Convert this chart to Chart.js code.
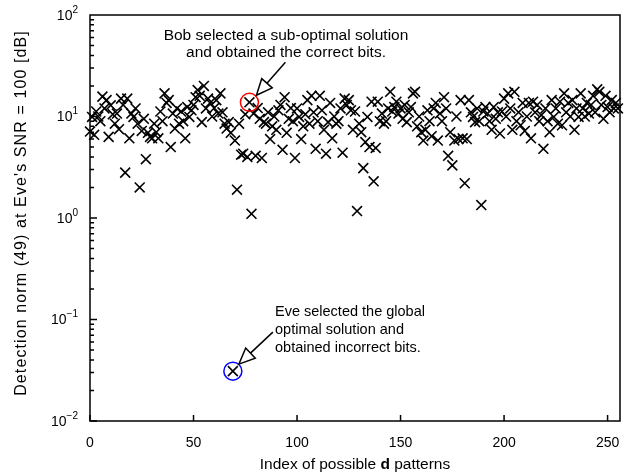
<!DOCTYPE html>
<html lang="en">
<head>
<meta charset="UTF-8">
<title>Detection norm vs. d pattern index</title>
<script src="https://cdn.jsdelivr.net/npm/chart.js"></script>
<style>
  html, body { margin: 0; padding: 0; background: #fff; }
  #wrap { width: 632px; height: 476px; }
</style>
</head>
<body>
<div id="wrap"><canvas id="chart" width="632" height="476"></canvas></div>
<script>
// tick values / labels
const xTicks = [0, 50, 100, 150, 200, 250];
const yDecades = [-2, -1, 0, 1, 2];

// detection norm for every possible d pattern (index 0..255)
const norms = [
  7.1, 9.9, 6.6, 11.2, 10, 9, 15.7, 12, 14.5, 6.3, 12.9, 10.5, 8.5, 10.7, 7.5, 15,
  13, 2.8, 15, 6.1, 10.7, 9.9, 12, 8.5, 2.0, 7.2, 9.5, 3.8, 6.9, 6.3, 6.1, 8.5,
  7.0, 6.1, 11.2, 9, 16.9, 13.6, 14.5, 5.0, 10.7, 7.6, 12, 8.5, 11.2, 9, 6.1, 12.4,
  9.9, 11.5, 13, 15.5, 18.2, 16, 8.8, 20, 12, 15, 13.6, 10, 12.1, 14.5, 10.7, 16.9,
  11, 8.5, 7.6, 8.8, 6.9, 0.031, 5.8, 1.9, 8.5, 4.2, 4.3, 10.5, 4.0, 13.8, 1.1, 10.7,
  4.1, 12.1, 9.5, 3.9, 8.8, 8.5, 11, 6, 8, 10, 7.4, 11.5, 13, 4.7, 15.5, 6.9,
  9.5, 12.1, 9.0, 3.9, 12, 9.9, 6, 8, 10.5, 14.5, 8.5, 16, 11, 4.8, 9, 16,
  11.5, 7.4, 4.3, 8.8, 13.6, 6.1, 10, 8.5, 9.0, 12, 4.4, 15, 13, 14.5, 11.5, 7.4,
  11.2, 1.17, 8.5, 7, 3.1, 5.6, 9.9, 5.0, 14, 2.3, 4.9, 14, 9, 10.7, 8.5, 9,
  12, 17.5, 11.2, 12.4, 14, 10.7, 12, 9.5, 13, 8.8, 11, 12.4, 16.9, 17.5, 8, 10,
  7, 5.8, 7.4, 11.5, 9, 6.4, 12, 13.6, 5.8, 10.7, 9, 15.5, 12, 4.1, 7, 3.3,
  5.8, 10, 6, 14.5, 6.1, 2.2, 6, 14.5, 11, 9.9, 8.8, 12, 9, 1.34, 11.2, 12.4,
  10.7, 9, 7.4, 12.4, 9.5, 11, 6.8, 11.2, 15, 10, 16.9, 12, 7.4, 17.5, 9.0, 11,
  8.2, 13.6, 7.2, 10, 13.6, 6.1, 14, 11, 13, 9, 10.3, 4.8, 12, 9, 7, 14.5,
  9.9, 12, 8.5, 14, 8.2, 16.9, 11, 13.6, 10, 14.5, 7.4, 12, 9.9, 16.9, 12, 10,
  13.6, 10.7, 13, 16, 11, 18.5, 17.5, 13, 9.5, 16, 12.4, 11, 14.5, 12, 13.6, 12
];

// highlighted solutions
const bobIndex = 77;
const eveIndex = 69;

const FONT = '"Liberation Sans", Arial, sans-serif';

function arrow(ctx, x0, y0, x1, y1) {
  // line from (x0,y0) to tip (x1,y1), hollow triangular head
  const ang = Math.atan2(y1 - y0, x1 - x0);
  const hl = 16, hw = 7;
  const bx = x1 - hl * Math.cos(ang), by = y1 - hl * Math.sin(ang);
  ctx.beginPath();
  ctx.moveTo(x0, y0);
  ctx.lineTo(bx, by);
  ctx.stroke();
  ctx.beginPath();
  ctx.moveTo(x1, y1);
  ctx.lineTo(bx + hw * Math.sin(ang), by - hw * Math.cos(ang));
  ctx.lineTo(bx - hw * Math.sin(ang), by + hw * Math.cos(ang));
  ctx.closePath();
  ctx.fillStyle = '#fff';
  ctx.fill();
  ctx.stroke();
}

const decor = {
  id: 'decor',
  afterDraw(chart) {
    const { ctx, chartArea: a, scales: { x, y } } = chart;
    ctx.save();
    ctx.strokeStyle = '#000';
    ctx.lineWidth = 1.5;
    ctx.strokeRect(a.left, a.top, a.right - a.left, a.bottom - a.top);

    // inward ticks
    ctx.beginPath();
    xTicks.forEach(v => {
      const px = x.getPixelForValue(v);
      ctx.moveTo(px, a.bottom);
      ctx.lineTo(px, a.bottom - 6);
    });
    for (let e = -2; e < 2; e++) {
      for (let s = 1; s < 10; s++) {
        const py = y.getPixelForValue(s * Math.pow(10, e));
        ctx.moveTo(a.left, py);
        ctx.lineTo(a.left + (s === 1 ? 7 : 4), py);
      }
    }
    ctx.stroke();

    // y tick labels 10^n
    ctx.fillStyle = '#000';
    ctx.textBaseline = 'middle';
    yDecades.forEach(e => {
      const py = y.getPixelForValue(Math.pow(10, e));
      const exp = String(e).replace('-', '\u2212');
      ctx.font = '10px ' + FONT;
      const we = ctx.measureText(exp).width;
      ctx.font = '14px ' + FONT;
      const wb = ctx.measureText('10').width;
      const right = a.left - 12;
      ctx.textAlign = 'left';
      ctx.fillText('10', right - we - wb, py + 1);
      ctx.font = '10px ' + FONT;
      ctx.fillText(exp, right - we, py - 5);
    });

    // axis titles
    ctx.save();
    ctx.font = '16px ' + FONT;
    ctx.letterSpacing = '1.1px';
    ctx.textAlign = 'center';
    ctx.translate(22, 213);
    ctx.rotate(-Math.PI / 2);
    ctx.fillText("Detection norm (49) at Eve's SNR = 100 [dB]", 0, 0);
    ctx.restore();

    const p1 = 'Index of possible ', p2 = 'd', p3 = ' patterns';
    ctx.font = '15.5px ' + FONT;
    const w1 = ctx.measureText(p1).width, w3 = ctx.measureText(p3).width;
    ctx.font = 'bold 15.5px ' + FONT;
    const w2 = ctx.measureText(p2).width;
    const tx = (a.left + a.right) / 2 - (w1 + w2 + w3) / 2;
    const ty = 465;
    ctx.textAlign = 'left';
    ctx.font = '15.5px ' + FONT;
    ctx.fillText(p1, tx, ty);
    ctx.font = 'bold 15.5px ' + FONT;
    ctx.fillText(p2, tx + w1, ty);
    ctx.font = '15.5px ' + FONT;
    ctx.fillText(p3, tx + w1 + w2, ty);

    // highlighted points
    const bx = x.getPixelForValue(bobIndex), by = y.getPixelForValue(norms[bobIndex]);
    const ex = x.getPixelForValue(eveIndex), ey = y.getPixelForValue(norms[eveIndex]);
    ctx.lineWidth = 1.5;
    ctx.strokeStyle = '#ff0000';
    ctx.beginPath(); ctx.arc(bx, by, 9, 0, 2 * Math.PI); ctx.stroke();
    ctx.strokeStyle = '#0000ff';
    ctx.beginPath(); ctx.arc(ex, ey, 9, 0, 2 * Math.PI); ctx.stroke();

    ctx.strokeStyle = '#000';
    arrow(ctx, bx + 36, by - 40, bx + 7, by - 7);
    arrow(ctx, ex + 40, ey - 39, ex + 6, ey - 7);

    ctx.fillStyle = '#000';
    ctx.font = '15.5px ' + FONT;
    ctx.textAlign = 'center';
    ctx.fillText('Bob selected a sub-optimal solution', 286, 36);
    ctx.fillText('and obtained the correct bits.', 286, 53);
    ctx.font = '14.5px ' + FONT;
    ctx.textAlign = 'left';
    ctx.fillText('Eve selected the global', 275, 312);
    ctx.fillText('optimal solution and', 275, 330);
    ctx.fillText('obtained incorrect bits.', 275, 348);
    ctx.restore();
  }
};

new Chart(document.getElementById('chart'), {
  type: 'scatter',
  data: {
    datasets: [{
      data: norms.map((v, i) => ({ x: i, y: v })),
      pointStyle: 'crossRot',
      radius: 7,
      borderWidth: 1.6,
      borderColor: '#000',
      backgroundColor: '#000',
      clip: 10
    }]
  },
  options: {
    responsive: false,
    animation: false,
    layout: { padding: { top: 15, right: 12, left: 0, bottom: 0 } },
    plugins: { legend: { display: false }, tooltip: { enabled: false } },
    scales: {
      x: {
        type: 'linear',
        min: 0,
        max: 256,
        afterFit: s => { s.height = 55; },
        afterBuildTicks: s => { s.ticks = xTicks.map(v => ({ value: v })); },
        grid: { display: false },
        border: { display: false },
        ticks: { color: '#000', font: { family: FONT, size: 14 }, padding: 6, maxRotation: 0 }
      },
      y: {
        type: 'logarithmic',
        min: 0.01,
        max: 100,
        afterFit: s => { s.width = 90; },
        grid: { display: false },
        border: { display: false },
        ticks: { display: false }
      }
    }
  },
  plugins: [decor]
});
</script>
</body>
</html>
